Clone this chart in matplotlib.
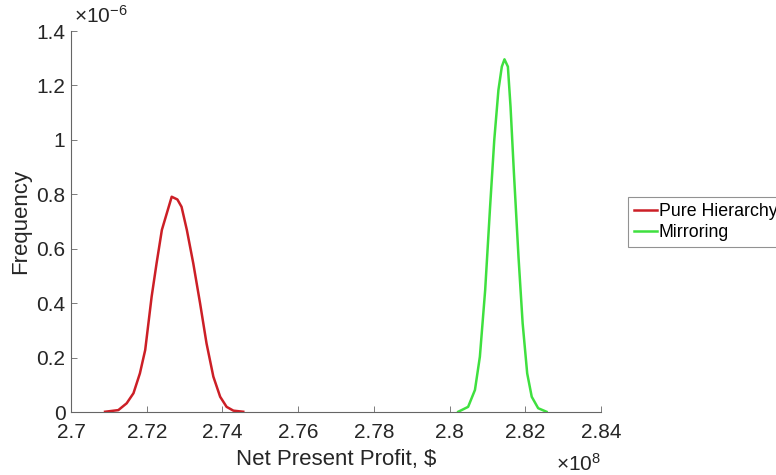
import numpy as np
import matplotlib
matplotlib.use("Agg")
import matplotlib.pyplot as plt
from matplotlib.ticker import FuncFormatter

# Net present profit (x 1e8 $) and frequency (x 1e-6)
hier_profit = [2.7090, 2.7125, 2.7147, 2.7165, 2.7182, 2.7196, 2.7213, 2.7226,
               2.7240, 2.7253, 2.7266, 2.7281, 2.7292, 2.7306, 2.7323, 2.7341,
               2.7358, 2.7376, 2.7394, 2.7411, 2.7429, 2.7455]
hier_freq = [0.001, 0.007, 0.032, 0.069, 0.142, 0.228, 0.424, 0.546,
             0.669, 0.730, 0.791, 0.781, 0.754, 0.669, 0.546, 0.399,
             0.252, 0.130, 0.056, 0.019, 0.005, 0.001]

mirr_profit = [2.8023, 2.8049, 2.8067, 2.8080, 2.8094, 2.8107, 2.8118, 2.8129,
               2.8138, 2.8145, 2.8154, 2.8161, 2.8170, 2.8182, 2.8193, 2.8205,
               2.8217, 2.8234, 2.8256]
mirr_freq = [0.001, 0.019, 0.081, 0.203, 0.448, 0.754, 0.999, 1.183,
             1.269, 1.296, 1.269, 1.122, 0.877, 0.571, 0.326, 0.142,
             0.056, 0.014, 0.001]

series_names = ["Pure Hierarchy", "Mirroring"]
x_ticks = [2.7, 2.72, 2.74, 2.76, 2.78, 2.8, 2.82, 2.84]
y_ticks = [0, 0.2, 0.4, 0.6, 0.8, 1.0, 1.2, 1.4]

plt.rcParams['font.family'] = ['Liberation Sans', 'DejaVu Sans']
plt.rcParams['mathtext.fontset'] = 'custom'
plt.rcParams['mathtext.rm'] = 'Liberation Sans'
plt.rcParams['mathtext.it'] = 'Liberation Sans'

txt = '#262626'
axcol = '#666666'

fig = plt.figure(figsize=(7.76, 4.75), dpi=100)
ax = fig.add_axes([0.0915, 0.1326, 0.6830, 0.8021])

ax.plot(hier_profit, hier_freq, color='#cc1f26', lw=1.8, label=series_names[0])
ax.plot(mirr_profit, mirr_freq, color='#3fe03f', lw=1.8, label=series_names[1])

ax.set_xlim(2.7, 2.84)
ax.set_ylim(0, 1.4)
ax.set_xticks(x_ticks)
ax.set_yticks(y_ticks)
fmt = FuncFormatter(lambda v, p: '%g' % round(v, 4))
ax.xaxis.set_major_formatter(fmt)
ax.yaxis.set_major_formatter(fmt)

for s in ['top', 'right']:
    ax.spines[s].set_visible(False)
for s in ['left', 'bottom']:
    ax.spines[s].set_color(axcol)
    ax.spines[s].set_linewidth(0.8)
ax.tick_params(direction='in', length=4, width=0.6, color=axcol,
               labelsize=15, labelcolor=txt)
ax.tick_params(axis='x', pad=8)
ax.tick_params(axis='y', pad=4)

ax.set_xlabel('Net Present Profit, $', fontsize=16, color=txt, labelpad=5)
ax.set_ylabel('Frequency', fontsize=16, color=txt, labelpad=4)

fig.text(0.096, 0.952, r'$\times10^{-6}$', fontsize=15, color=txt, ha='left', va='baseline')
fig.text(0.716, 0.008, r'$\times10^{8}$', fontsize=15, color=txt, ha='left', va='baseline')

leg = fig.legend(loc='upper left', bbox_to_anchor=(0.809, 0.585), fontsize=12.8,
                 frameon=True, fancybox=False, handlelength=1.3, handletextpad=0.1,
                 borderpad=0.35, labelspacing=0.2, borderaxespad=0)
leg.get_frame().set_edgecolor('#777777')
leg.get_frame().set_linewidth(0.8)

fig.savefig('out.png', dpi=100)
